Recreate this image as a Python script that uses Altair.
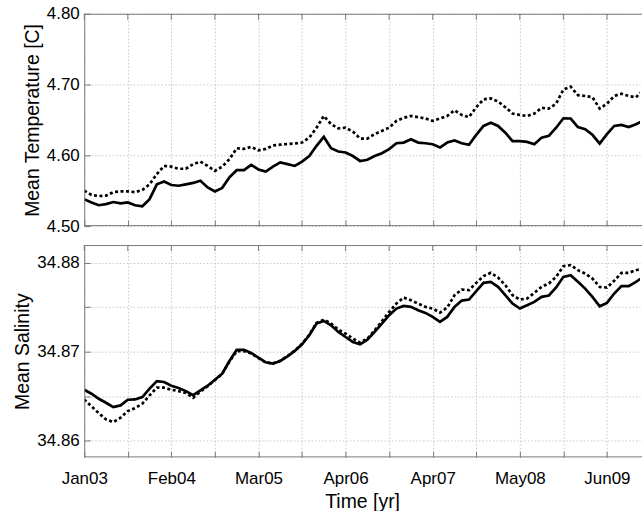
import altair as alt
import pandas as pd
from datetime import datetime, timedelta

# Sampling grid: one value every 32.5 days starting 18 Jan 2003
START = datetime(2003, 1, 18)
STEP = timedelta(hours=780)
N_SAMPLES = 78

# Mean temperature [C]
temp_solid = [
    4.538, 4.5335, 4.5295, 4.531, 4.534, 4.532, 4.5335, 4.5295, 4.528, 4.538,
    4.559, 4.563, 4.558, 4.557, 4.559, 4.561, 4.564, 4.5545, 4.549, 4.554,
    4.569, 4.579, 4.579, 4.5865, 4.580, 4.577, 4.584, 4.590, 4.5876, 4.585,
    4.591, 4.599, 4.6134, 4.626, 4.610, 4.6054, 4.604, 4.599, 4.592, 4.5937,
    4.599, 4.603, 4.6087, 4.617, 4.618, 4.6228, 4.618, 4.617, 4.6157, 4.611,
    4.618, 4.621, 4.617, 4.6148, 4.629, 4.6415, 4.646, 4.6415, 4.632, 4.620,
    4.620, 4.619, 4.6157, 4.625, 4.6275, 4.639, 4.6523, 4.652, 4.640, 4.637,
    4.629, 4.6167, 4.630, 4.6415, 4.643, 4.640, 4.644, 4.649,
]
temp_dashed = [
    4.550, 4.544, 4.5425, 4.543, 4.548, 4.549, 4.549, 4.548, 4.551, 4.559,
    4.5735, 4.585, 4.584, 4.581, 4.581, 4.5875, 4.591, 4.585, 4.578, 4.584,
    4.5945, 4.610, 4.609, 4.612, 4.607, 4.609, 4.614, 4.615, 4.616, 4.6167,
    4.618, 4.625, 4.639, 4.6556, 4.644, 4.638, 4.639, 4.6336, 4.6237, 4.6237,
    4.630, 4.6345, 4.639, 4.6486, 4.653, 4.6556, 4.654, 4.652, 4.6486, 4.652,
    4.6556, 4.6636, 4.657, 4.654, 4.668, 4.679, 4.6805, 4.676, 4.668, 4.659,
    4.657, 4.6556, 4.659, 4.667, 4.666, 4.673, 4.693, 4.697, 4.685, 4.6838,
    4.682, 4.666, 4.673, 4.6838, 4.687, 4.6838, 4.682, 4.692,
]

# Mean salinity
salt_solid = [
    34.86571, 34.86526, 34.86470, 34.86425, 34.86376, 34.86395, 34.86459, 34.86462, 34.86489, 34.86583,
    34.86669, 34.86658, 34.86617, 34.86590, 34.86556, 34.86511, 34.86564, 34.86617, 34.86684, 34.86752,
    34.86895, 34.87020, 34.87020, 34.86985, 34.86932, 34.86880, 34.86865, 34.86895, 34.86947, 34.87008,
    34.87083, 34.87184, 34.87316, 34.87346, 34.87297, 34.87222, 34.87165, 34.87109, 34.87083, 34.87135,
    34.87222, 34.87316, 34.87410, 34.87485, 34.87515, 34.87504, 34.87466, 34.87436, 34.87391, 34.87335,
    34.87391, 34.87504, 34.87575, 34.87586, 34.87680, 34.87774, 34.87786, 34.87729, 34.87635, 34.87541,
    34.87485, 34.87523, 34.87560, 34.87617, 34.87632, 34.87722, 34.87842, 34.87861, 34.87786, 34.87710,
    34.87617, 34.87511, 34.87549, 34.87654, 34.87737, 34.87737, 34.87786, 34.87840,
]
salt_dashed = [
    34.86462, 34.86383, 34.86308, 34.86237, 34.86207, 34.86256, 34.86331, 34.86365, 34.86414, 34.86508,
    34.86594, 34.86594, 34.86571, 34.86556, 34.86534, 34.86481, 34.86550, 34.86610, 34.86680, 34.86750,
    34.86890, 34.87005, 34.87005, 34.86980, 34.86928, 34.86878, 34.86868, 34.86898, 34.86950, 34.87012,
    34.87088, 34.87190, 34.87325, 34.87360, 34.87316, 34.87248, 34.87203, 34.87147, 34.87102, 34.87147,
    34.87240, 34.87342, 34.87447, 34.87541, 34.87609, 34.87579, 34.87541, 34.87504, 34.87485, 34.87440,
    34.87496, 34.87635, 34.87699, 34.87692, 34.87774, 34.87850, 34.87887, 34.87835, 34.87748, 34.87635,
    34.87586, 34.87598, 34.87662, 34.87729, 34.87767, 34.87842, 34.87962, 34.87974, 34.87917, 34.87880,
    34.87823, 34.87729, 34.87722, 34.87797, 34.87887, 34.87887, 34.87917, 34.87936,
]

# Axis ticks: labelled every 390 days, minor tick halfway between
TICK_STEP_DAYS = 195
N_TICKS = 13
END = START + timedelta(days=2488)
temp_ticks = [4.50, 4.55, 4.60, 4.65, 4.70, 4.75, 4.80]
salt_ticks = [34.86, 34.865, 34.87, 34.875, 34.88]
TEMP_DOMAIN = [4.50, 4.80]
SALT_DOMAIN = [34.8581, 34.8820]

times = [START + STEP * i for i in range(N_SAMPLES)]
iso = [t.strftime("%Y-%m-%dT%H:%M:%SZ") for t in times]
df = pd.DataFrame({
    "time": iso,
    "temp_solid": temp_solid,
    "temp_dashed": temp_dashed,
    "salt_solid": salt_solid,
    "salt_dashed": salt_dashed,
})

tick_dates = [START + timedelta(days=TICK_STEP_DAYS * j) for j in range(N_TICKS)]
tick_df = pd.DataFrame({"time": [d.strftime("%Y-%m-%dT00:00:00Z") for d in tick_dates]})


def dt(d):
    return alt.DateTime(year=d.year, month=d.month, date=d.day, utc=True)


x_scale = alt.Scale(type="utc", domain=[dt(START), dt(END)], nice=False)
x_vals = [dt(d) for d in tick_dates]

GRAY = "#7a7a7a"
GRID = "#c2c2c2"
W, H = 557.5, 213
FONT = "Liberation Sans"

major_only_x = (
    "round((datum.value - utc(2003, 0, 18)) / 86400000) % 390 == 0 ? datum.label : ''"
)


def x_axis(show_labels):
    kw = dict(
        values=x_vals,
        grid=True,
        domain=False,
        tickSize=6,
        offset=-6,
        tickColor=GRAY,
        gridColor=GRID,
        gridDash=[1.5, 2],
        gridWidth=0.9,
        labelFlush=False,
    )
    if show_labels:
        kw.update(
            format="%b%y",
            labelExpr=major_only_x,
            labelPadding=13,
            title="Time [yr]",
            titlePadding=6,
        )
    else:
        kw.update(labels=False, title=None)
    return alt.Axis(**kw)


def y_axis(title, ticks, scale10):
    expr = (
        f"abs(datum.value*{scale10} - round(datum.value*{scale10})) < 1e-6 ? datum.label : ''"
    )
    return alt.Axis(
        values=ticks,
        format=".2f",
        labelExpr=expr,
        grid=True,
        domain=False,
        tickSize=6,
        offset=-6,
        tickColor=GRAY,
        gridColor=GRID,
        gridDash=[1.5, 2],
        gridWidth=0.9,
        labelPadding=5,
        labelFlush=False,
        title=title,
        titlePadding=4,
    )


def frame():
    # Top, left and bottom edges of the plot box (the right side runs off the page)
    edge = alt.Chart(tick_df.head(1)).mark_rule(color=GRAY, strokeWidth=1)
    top_edge = edge.encode(x=alt.value(0), x2=alt.value(W + 2), y=alt.value(0.5))
    left_edge = edge.encode(x=alt.value(0.5), y=alt.value(0), y2=alt.value(H))
    bottom_edge = edge.encode(x=alt.value(0), x2=alt.value(W + 2), y=alt.value(H - 0.5))
    return [top_edge, left_edge, bottom_edge]


def panel(solid_col, dashed_col, domain, ticks, scale10, title, show_x_labels):
    y_scale = alt.Scale(domain=domain, nice=False, zero=False)
    base = alt.Chart(df)
    solid = base.mark_line(color="black", strokeWidth=2.7, clip=True).encode(
        x=alt.X("time:T", scale=x_scale, axis=x_axis(show_x_labels)),
        y=alt.Y(f"{solid_col}:Q", scale=y_scale, axis=y_axis(title, ticks, scale10)),
    )
    dashed = base.mark_line(
        color="black", strokeWidth=2.7, strokeDash=[3, 2.5], clip=True
    ).encode(
        x=alt.X("time:T", scale=x_scale),
        y=alt.Y(f"{dashed_col}:Q", scale=y_scale),
    )
    top_ticks = alt.Chart(tick_df).mark_rule(color=GRAY, strokeWidth=1).encode(
        x=alt.X("time:T", scale=x_scale),
        y=alt.value(0),
        y2=alt.value(6),
    )
    return alt.layer(solid, dashed, top_ticks, *frame()).properties(width=W, height=H)


top = panel("temp_solid", "temp_dashed", TEMP_DOMAIN, temp_ticks, 10,
            "Mean Temperature [C]", False)
bottom = panel("salt_solid", "salt_dashed", SALT_DOMAIN, salt_ticks, 100,
               "Mean Salinity", True)

chart = (
    alt.vconcat(top, bottom, spacing=19, bounds="flush")
    .properties(padding={"left": 12.5, "top": 4, "right": 0, "bottom": 0},
                background="white")
    .configure_view(stroke=None)
    .configure_axis(
        labelFont=FONT,
        titleFont=FONT,
        labelFontSize=17,
        titleFontSize=19.5,
        titleFontWeight="normal",
        labelColor="black",
        titleColor="black",
    )
)

chart.save("out.html", embed_options={"renderer": "svg", "actions": False})
